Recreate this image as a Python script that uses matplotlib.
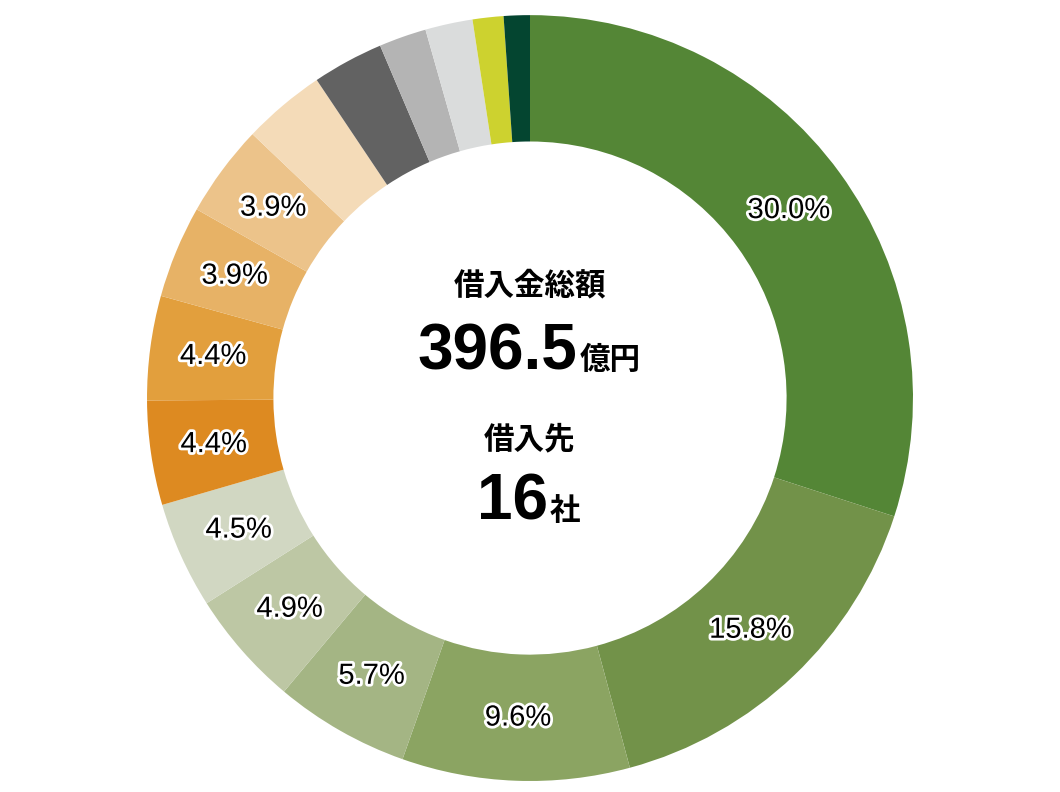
import matplotlib
matplotlib.use("Agg")
import matplotlib.pyplot as plt
import matplotlib.patheffects as pe

plt.rcParams['font.family'] = ['Noto Sans CJK JP', 'DejaVu Sans']

values = [30.0, 15.8, 9.6, 5.7, 4.9, 4.5, 4.4, 4.4, 3.9, 3.9, 3.5, 3.0, 2.0, 2.0, 1.3, 1.1]
labels = ["30.0%", "15.8%", "9.6%", "5.7%", "4.9%", "4.5%", "4.4%", "4.4%", "3.9%", "3.9%",
          "", "", "", "", "", ""]
colors = ["#548636", "#729249", "#8ba462", "#a4b584", "#bdc7a4", "#d1d7c2",
          "#dd8a21", "#e29f3d", "#e7b266", "#ecc38a", "#f4dbb8",
          "#626262", "#b4b4b4", "#dadcdc", "#cdd22f", "#044530"]

fig = plt.figure(figsize=(10.6, 7.92), dpi=100)
ax = fig.add_axes([0.5 - 0.3613, 0.4975 - 0.4836, 0.7226, 0.967])
wedges, texts = ax.pie(values, colors=colors, startangle=90, counterclock=False,
                       radius=1.0, wedgeprops=dict(width=0.33, edgecolor='none'),
                       labels=labels, labeldistance=0.835,
                       textprops=dict(fontsize=21, ha='center', va='center',
                                      family=['Liberation Sans', 'DejaVu Sans']))
for t in texts:
    t.set_path_effects([pe.withStroke(linewidth=4, foreground='white')])
ax.set_xlim(-1, 1); ax.set_ylim(-1, 1)
ax.set_aspect('auto')
ax.axis('off')

fig.text(0.5, 0.64, "借入金総額", ha='center', va='center', fontsize=22, fontweight='bold')
fig.text(0.545, 0.555, "396.5", ha='right', va='center', fontsize=46, fontweight='bold',
         family=['Liberation Sans', 'DejaVu Sans'])
fig.text(0.547, 0.545, "億円", ha='left', va='center', fontsize=22, fontweight='bold')
fig.text(0.5, 0.445, "借入先", ha='center', va='center', fontsize=22, fontweight='bold')
fig.text(0.517, 0.365, "16", ha='right', va='center', fontsize=46, fontweight='bold',
         family=['Liberation Sans', 'DejaVu Sans'])
fig.text(0.519, 0.355, "社", ha='left', va='center', fontsize=22, fontweight='bold')

fig.savefig("out.png", dpi=100, facecolor='white')
